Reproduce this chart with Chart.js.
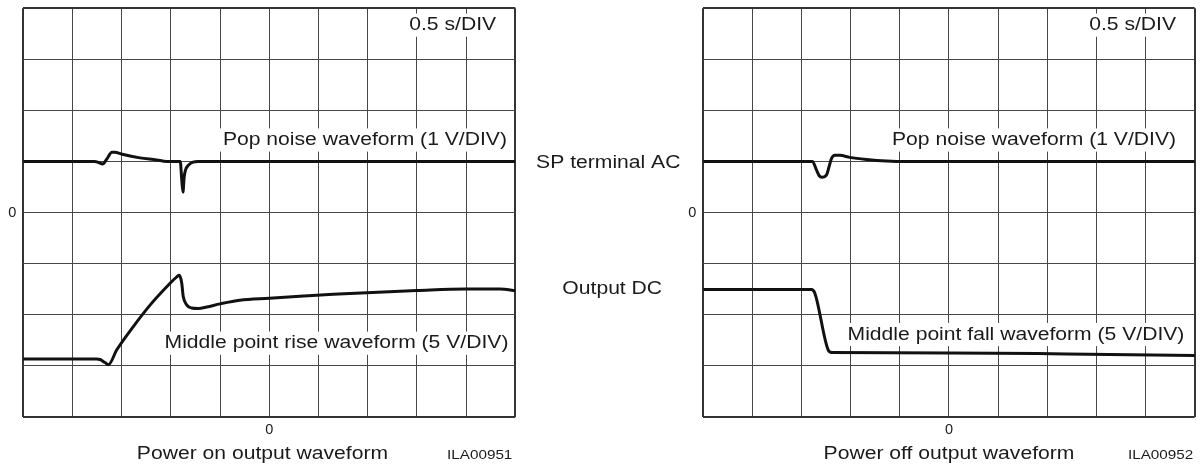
<!DOCTYPE html>
<html>
<head>
<meta charset="utf-8">
<script src="https://cdn.jsdelivr.net/npm/chart.js@4.4.1/dist/chart.umd.min.js"></script>
<style>
    body { margin: 0; background: #fff; }
    #wrap { position: relative; width: 1203px; height: 465px; }
    canvas { position: absolute; top: 0; }
    #powerOn { left: 0; }
    #powerOff { left: 680px; }
</style>
</head>
<body>
<div id="wrap">
    <canvas id="powerOn" width="700" height="465"></canvas>
    <canvas id="powerOff" width="523" height="465"></canvas>
</div>
<script>
// ============================================================================
// 波形データ(x, y とも目盛り 1 DIV 単位)
// ============================================================================

// 電源オン: ポップノイズ
const onPopX = [-5, -3.55, -3.47, -3.39, -3.30, -3.20, -3.14, -2.99, -2.63, -2.29, -2.09, -1.81, -1.78, -1.755, -1.73, -1.70, -1.64, -1.55, -1.45, 5];
const onPopY = [1, 1, 0.98, 0.95, 1.05, 1.18, 1.18, 1.14, 1.07, 1.03, 1.0, 1.0, 0.65, 0.40, 0.70, 0.84, 0.93, 0.985, 1.0, 1];

// 電源オン: 中点電位の立ち上がり
const onMidX = [-5, -3.51, -3.44, -3.34, -3.27, -3.10, -2.76, -2.42, -2.09, -1.88, -1.83, -1.78, -1.75, -1.68, -1.58, -1.44, -1.27, -1.0, -0.6, 0, 0.62, 1.3, 1.98, 3.0, 3.99, 4.69, 5];
const onMidY = [-2.87, -2.87, -2.88, -2.94, -2.98, -2.69, -2.23, -1.81, -1.46, -1.26, -1.23, -1.38, -1.64, -1.81, -1.87, -1.88, -1.85, -1.79, -1.72, -1.68, -1.64, -1.60, -1.57, -1.53, -1.50, -1.50, -1.53];

// 電源オフ: ポップノイズ
const offPopX = [-5, -2.78, -2.70, -2.64, -2.59, -2.49, -2.44, -2.39, -2.32, -2.22, -2.02, -1.68, -1.27, -0.87, 5];
const offPopY = [1, 1, 0.84, 0.72, 0.69, 0.74, 0.90, 1.06, 1.12, 1.12, 1.08, 1.04, 1.01, 1.0, 1];

// 電源オフ: 中点電位の立ち下がり
const offMidX = [-5, -2.80, -2.73, -2.46, -2.39, 0, 2.39, 5];
const offMidY = [-1.51, -1.51, -1.58, -2.69, -2.74, -2.75, -2.77, -2.80];

// 目盛りラベル(0 のみ表示)
const tickLabels = { 0: "0" };

// ============================================================================
// 共通設定
// ============================================================================

const FONT = '"Liberation Sans", Arial, Helvetica, sans-serif';
const STRETCH = 1.13; // 元図の文字は横に少し広い
const INK = "#1a1a1a";

const toPoints = (xs, ys) => xs.map((x, i) => ({ x: x, y: ys[i] }));

const trace = (xs, ys) => ({
    data: toPoints(xs, ys),
    borderColor: "#111",
    borderWidth: 3,
    pointRadius: 0,
    fill: false,
    cubicInterpolationMode: "monotone",
    borderJoinStyle: "round",
    borderCapStyle: "round",
});

// 軸の大きさを固定し、ラベル由来の余白を消す
const fixSize = (prop, size) => (s) => {
    s[prop] = size;
    s.paddingTop = 0;
    s.paddingBottom = 0;
    s.paddingLeft = 0;
    s.paddingRight = 0;
};

const divScale = (min, max, fit, pad) => ({
    type: "linear",
    min: min,
    max: max,
    afterFit: fit,
    ticks: {
        stepSize: 1,
        autoSkip: false,
        padding: pad,
        color: INK,
        font: { family: FONT, size: 14.5 },
        callback: (v) => tickLabels[v] || "",
    },
    grid: {
        color: (c) => (c.tick && (c.tick.value === min || c.tick.value === max) ? "#333" : "#474747"),
        drawTicks: false,
        lineWidth: (c) => (c.tick && (c.tick.value === min || c.tick.value === max) ? 2 : 1),
    },
    border: { display: false },
});

// 文字(白抜きの背景つき)を描くプラグイン
const notes = {
    id: "notes",
    afterDatasetsDraw(chart, args, opts) {
        const { ctx, scales } = chart;
        for (const n of opts.items) {
            const px = scales.x.getPixelForValue(n.x);
            const py = scales.y.getPixelForValue(n.y);
            ctx.save();
            ctx.font = `${n.size}px ${FONT}`;
            const w = ctx.measureText(n.text).width * STRETCH;
            let left = px;
            if (n.align === "right") left = px - w;
            if (n.align === "center") left = px - w / 2;
            if (n.box) {
                ctx.fillStyle = "#fff";
                ctx.fillRect(left - 3, py - n.size * 0.62, w + 6, n.size * 1.24);
            }
            ctx.translate(left, py);
            ctx.scale(STRETCH, 1);
            ctx.fillStyle = INK;
            ctx.textAlign = "left";
            ctx.textBaseline = "middle";
            ctx.fillText(n.text, 0, 0);
            ctx.restore();
        }
    },
};

const makeScope = (el, datasets, padRight, items) => new Chart(el, {
    type: "line",
    data: { datasets: datasets },
    options: {
        responsive: false,
        animation: false,
        events: [],
        layout: { padding: { left: 0, top: 8.3, right: padRight, bottom: 0 } },
        scales: {
            x: divScale(-5, 5, fixSize("height", 48.3), 5),
            y: divScale(-4, 4, fixSize("width", 23.3), 7),
        },
        plugins: {
            legend: { display: false },
            tooltip: { enabled: false },
            notes: { items: items },
        },
    },
    plugins: [notes],
});

// ============================================================================
// 電源オン
// ============================================================================

makeScope(document.getElementById("powerOn"), [trace(onPopX, onPopY), trace(onMidX, onMidY)], 184.7, [
    { text: "0.5 s/DIV", x: 4.61, y: 3.67, size: 18.7, align: "right", box: true },
    { text: "Pop noise waveform (1 V/DIV)", x: 4.83, y: 1.42, size: 18.7, align: "right", box: true },
    { text: "Middle point rise waveform (5 V/DIV)", x: 4.86, y: -2.56, size: 18.7, align: "right", box: true },
    { text: "Power on output waveform", x: -0.14, y: -4.72, size: 18.7, align: "center" },
    { text: "ILA00951", x: 4.94, y: -4.76, size: 13.5, align: "right" },
    { text: "SP terminal AC", x: 6.89, y: 0.97, size: 18.7, align: "center" },
    { text: "Output DC", x: 6.97, y: -1.50, size: 18.7, align: "center" },
]);

// ============================================================================
// 電源オフ
// ============================================================================

makeScope(document.getElementById("powerOff"), [trace(offPopX, offPopY), trace(offMidX, offMidY)], 8.3, [
    { text: "0.5 s/DIV", x: 4.62, y: 3.67, size: 18.7, align: "right", box: true },
    { text: "Pop noise waveform (1 V/DIV)", x: 4.62, y: 1.42, size: 18.7, align: "right", box: true },
    { text: "Middle point fall waveform (5 V/DIV)", x: 4.79, y: -2.39, size: 18.7, align: "right", box: true },
    { text: "Power off output waveform", x: 0, y: -4.72, size: 18.7, align: "center" },
    { text: "ILA00952", x: 4.97, y: -4.76, size: 13.5, align: "right" },
]);
</script>
</body>
</html>
